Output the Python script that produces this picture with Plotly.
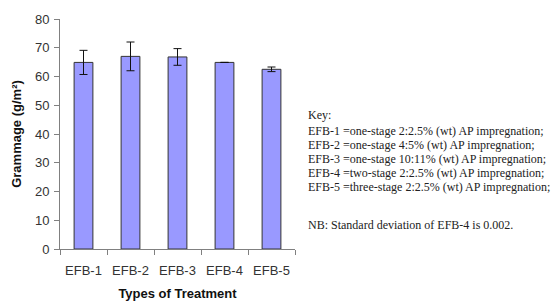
import plotly.graph_objects as go

categories = ["EFB-1", "EFB-2", "EFB-3", "EFB-4", "EFB-5"]
grammage = [64.9, 67.0, 66.8, 64.9, 62.5]
std_dev = [4.2, 5.0, 2.9, 0.002, 0.8]

key_lines = [
    "Key:",
    "EFB-1 =one-stage 2:2.5% (wt) AP impregnation;",
    "EFB-2 =one-stage 4:5% (wt) AP impregnation;",
    "EFB-3 =one-stage 10:11% (wt) AP impregnation;",
    "EFB-4 =two-stage 2:2.5% (wt) AP impregnation;",
    "EFB-5 =three-stage 2:2.5% (wt) AP impregnation;",
]
note_line = "NB: Standard deviation of EFB-4 is 0.002."

W, H = 553, 301
L, R, T, B = 60, 258, 19, 52
pw, ph = W - L - R, H - T - B

def px_x(px):
    return (px - L) / pw

def px_y(py):
    return (H - B - py) / ph

fig = go.Figure()
fig.add_trace(go.Bar(
    x=categories, y=grammage,
    marker=dict(color="#9999FF", line=dict(color="#333333", width=1)),
    error_y=dict(type="data", array=std_dev, visible=True, color="#111111", thickness=1, width=4),
))

annotations = []
key_y = [115, 131, 145, 159, 173, 187]
for txt, yy in zip(key_lines, key_y):
    annotations.append(dict(
        text=txt, xref="paper", yref="paper", x=px_x(306), y=px_y(yy),
        xanchor="left", yanchor="middle", showarrow=False,
        font=dict(family="Liberation Serif, Times New Roman, serif", size=12, color="#222222"),
    ))
annotations.append(dict(
    text=note_line, xref="paper", yref="paper", x=px_x(306), y=px_y(225),
    xanchor="left", yanchor="middle", showarrow=False,
    font=dict(family="Liberation Serif, Times New Roman, serif", size=12, color="#222222"),
))

fig.update_layout(
    width=W, height=H,
    margin=dict(l=L, r=R, t=T, b=B, pad=0),
    paper_bgcolor="white", plot_bgcolor="white",
    showlegend=False,
    bargap=0.6,
    font=dict(family="Liberation Sans, Arial, sans-serif", size=13, color="#333333"),
    annotations=annotations,
    xaxis=dict(
        type="category", tickson="boundaries", ticks="outside", ticklen=5,
        tickcolor="#808080", showline=True, linecolor="#808080", linewidth=1,
        showgrid=False, ticklabelstandoff=9, automargin=False,
        tickfont=dict(size=13, color="#333333"),
        title=dict(text="<b>Types of Treatment</b>", standoff=13,
                   font=dict(size=13, color="#111111")),
    ),
    yaxis=dict(
        range=[0, 80], dtick=10, ticks="outside", ticklen=5,
        tickcolor="#808080", showline=True, linecolor="#808080", linewidth=1,
        showgrid=False, zeroline=False, ticklabelstandoff=2, automargin=False,
        tickfont=dict(size=13, color="#333333"),
        title=dict(text="<b>Grammage (g/m²)</b>", standoff=10,
                   font=dict(size=13, color="#111111")),
    ),
)

fig.write_html("out.html", config={"displayModeBar": False},
               post_script="document.body.style.margin='0';")
